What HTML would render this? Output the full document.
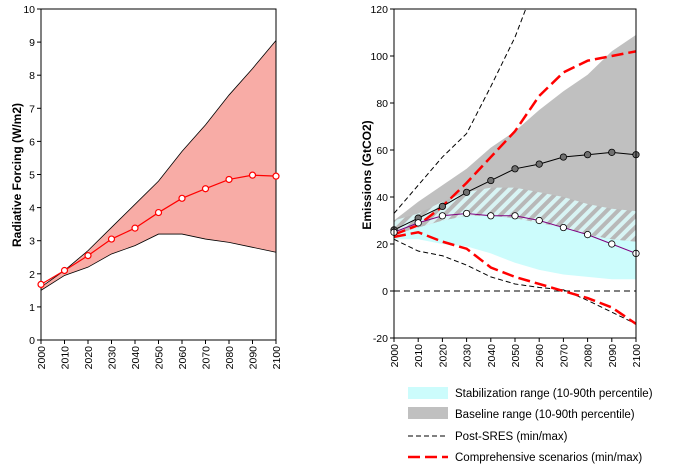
<!DOCTYPE html>
<html><head><meta charset="utf-8"><style>
body{margin:0;background:#fff}
svg{font-family:"Liberation Sans",Arial,sans-serif;display:block}
</style></head><body>
<svg id="c" width="688" height="472" viewBox="0 0 688 472">
<defs>
<pattern id="hatch" width="8" height="8" patternUnits="userSpaceOnUse" patternTransform="rotate(45)">
<rect width="8" height="8" fill="#d8f4f4"/><rect width="4" height="8" fill="#b8b8b8"/>
</pattern>
<clipPath id="clipL"><rect x="41" y="9" width="235" height="331"/></clipPath>
<clipPath id="clipR"><rect x="394" y="9" width="242" height="329"/></clipPath>
</defs>
<g id="left"></g>
<g id="right"></g>
<g>
<rect x="408" y="387" width="40" height="12" fill="#ccfcfc"/>
<text x="455" y="397" font-size="11.5">Stabilization range (10-90th percentile)</text>
<rect x="408" y="407" width="40" height="12" fill="#c0c0c0"/>
<text x="455" y="418" font-size="11.5">Baseline range (10-90th percentile)</text>
<line x1="408" y1="436" x2="448" y2="436" stroke="#000" stroke-dasharray="5,3"/>
<text x="455" y="440" font-size="11.5">Post-SRES (min/max)</text>
<line x1="408" y1="457" x2="448" y2="457" stroke="#f00" stroke-width="2.5" stroke-dasharray="12,5"/>
<text x="455" y="461" font-size="11.5">Comprehensive scenarios (min/max)</text>
</g>
</svg>
<script>
const years=[2000,2010,2020,2030,2040,2050,2060,2070,2080,2090,2100];
const rfUpper=[1.6,2.1,2.7,3.4,4.1,4.8,5.7,6.5,7.4,8.2,9.05];
const rfLower=[1.5,1.95,2.2,2.6,2.85,3.2,3.2,3.05,2.95,2.8,2.65];
const rfMedian=[1.68,2.1,2.55,3.05,3.38,3.85,4.28,4.57,4.85,4.98,4.95];
const rfTicks=[0,1,2,3,4,5,6,7,8,9,10];
const baseUpper=[30,38,45,52,61,68,77,85,92,102,109];
const baseLower=[24,27,30,32,32,31,29,27,24,22,21];
const stabUpper=[30,33,38,42,44,44,42,40,37,35,34];
const stabLower=[22,22,20,19,16,12,9,7,6,5,5];
const baseMedian=[26,31,36,42,47,52,54,57,58,59,58];
const stabMedian=[25,29,32,33,32,32,30,27,24,20,16];
const sresYears=[2000,2010,2020,2030,2040,2050,2060];
const sresMax=[33,45,57,67,87,108,135];
const sresMin=[22,17,15,11,6,3,1.5,0.5,-4,-9,-14];
const compMax=[24,28,36,46,57,68,83,93,98,100,102];
const compMin=[23,25,21,18,10,6,3,0,-3,-7,-14];
const emTicks=[-20,0,20,40,60,80,100,120];
const NS="http://www.w3.org/2000/svg";
function mk(p,t,a){const e=document.createElementNS(NS,t);for(const k in a)e.setAttribute(k,a[k]);p.appendChild(e);return e;}
function lin(d0,d1,r0,r1){return v=>r0+(v-d0)/(d1-d0)*(r1-r0);}
function pts(xs,ys,X,Y){return xs.map((x,i)=>X(x)+','+Y(ys[i])).join(' ');}
function band(xs,up,lo,X,Y){return pts(xs,up,X,Y)+' '+pts(xs.slice().reverse(),lo.slice().reverse(),X,Y);}
function axes(g,X,Y,x0,x1,y0,y1,ticks){
  const ax=mk(g,'rect',{x:x0,y:y1,width:x1-x0,height:y0-y1,fill:'none',stroke:'#000','stroke-width':1});
  
  ticks.forEach(t=>{const l=mk(g,'line',{x1:x0-4,x2:x0,y1:Y(t),y2:Y(t),stroke:'#000'});
    
    const tx=mk(g,'text',{x:x0-6,y:Y(t)+4,'font-size':10.5,'text-anchor':'end'});tx.textContent=t;
    });
  years.forEach(y=>{const l=mk(g,'line',{x1:X(y),x2:X(y),y1:y0,y2:y0+4,stroke:'#000'});
    
    const tx=mk(g,'text',{transform:`translate(${X(y)+4},${y0+6}) rotate(-90)`,'font-size':10.5,'text-anchor':'end'});tx.textContent=y;
    });
}
(function(){
const g=document.getElementById('left');
const X=lin(2000,2100,41,276),Y=lin(0,10,340,9);
const b=mk(g,'polygon',{points:band(years,rfUpper,rfLower,X,Y),fill:'#f8aca6',stroke:'#000','stroke-width':0.8});

axes(g,X,Y,41,276,340,9,rfTicks);
const l=mk(g,'polyline',{points:pts(years,rfMedian,X,Y),fill:'none',stroke:'#f00','stroke-width':1.2});

years.forEach((y,i)=>{const c=mk(g,'circle',{cx:X(y),cy:Y(rfMedian[i]),r:3,fill:'#fff',stroke:'#f00','stroke-width':1.2});
  });
const t=mk(g,'text',{transform:'translate(21,175) rotate(-90)','font-size':12,'font-weight':'bold','text-anchor':'middle'});
t.textContent='Radiative Forcing (W/m2)';

})();
(function(){
const g=document.getElementById('right');
const X=lin(2000,2100,394,636),Y=lin(-20,120,338,9);
const pg=mk(g,'g',{'clip-path':'url(#clipR)'});
const c1=mk(pg,'polygon',{points:band(years,stabUpper,stabLower,X,Y),fill:'#ccfcfc'});

const c2=mk(pg,'polygon',{points:band(years,baseUpper,baseLower,X,Y),fill:'#c0c0c0'});

const c3=mk(pg,'polygon',{points:band(years,stabUpper,baseLower,X,Y),fill:'url(#hatch)'});

const z=mk(pg,'line',{x1:394,x2:636,y1:Y(0),y2:Y(0),stroke:'#000','stroke-dasharray':'6,4'});

const s1=mk(pg,'polyline',{points:pts(sresYears,sresMax,X,Y),fill:'none',stroke:'#000','stroke-dasharray':'5,3'});

const s2=mk(pg,'polyline',{points:pts(years,sresMin,X,Y),fill:'none',stroke:'#000','stroke-dasharray':'5,3'});

const r1=mk(pg,'polyline',{points:pts(years,compMax,X,Y),fill:'none',stroke:'#f00','stroke-width':2.5,'stroke-dasharray':'12,5'});

const r2=mk(pg,'polyline',{points:pts(years,compMin,X,Y),fill:'none',stroke:'#f00','stroke-width':2.5,'stroke-dasharray':'12,5'});

const bm=mk(g,'polyline',{points:pts(years,baseMedian,X,Y),fill:'none',stroke:'#000','stroke-width':1});

const sm=mk(g,'polyline',{points:pts(years,stabMedian,X,Y),fill:'none',stroke:'#800080','stroke-width':1});

years.forEach((y,i)=>{const c=mk(g,'circle',{cx:X(y),cy:Y(baseMedian[i]),r:3.2,fill:'#707070',stroke:'#000','stroke-width':0.8});
  
  const d=mk(g,'circle',{cx:X(y),cy:Y(stabMedian[i]),r:3.2,fill:'#fff',stroke:'#000','stroke-width':0.8});
  });
axes(g,X,Y,394,636,338,9,emTicks);
const t=mk(g,'text',{transform:'translate(371,175) rotate(-90)','font-size':12,'font-weight':'bold','text-anchor':'middle'});
t.textContent='Emissions (GtCO2)';

})();
</script>
</body></html>
